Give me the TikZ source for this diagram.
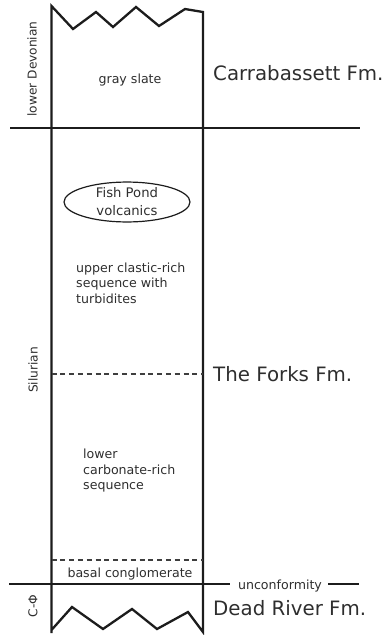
\documentclass[tikz,border=0pt]{standalone}
\usepackage{fontspec}
\setmainfont{DejaVu Sans}
\usetikzlibrary{shapes.geometric}
\definecolor{txt}{HTML}{2E2E2E}
\definecolor{ln}{HTML}{1C1C1C}
\tikzset{
  x=1pt, y=-1pt,
  rule/.style={draw=ln, line width=2.3pt},
  dashrule/.style={draw=ln!85, line width=1.2pt, dash pattern=on 5pt off 3.8pt},
  big/.style={text=txt, inner sep=0pt, font=\fontsize{19.8}{22}\selectfont},
  small/.style={text=txt, inner sep=0pt, font=\fontsize{12.6}{15.5}\selectfont},
  side/.style={text=txt, inner sep=0pt, rotate=90, font=\fontsize{12.2}{14}\selectfont},
}
\begin{document}
\begin{tikzpicture}
\useasboundingbox (0,0) rectangle (389,635);
% column outline with zigzag top and bottom
\draw[rule, line join=miter] (51.5,633) -- (51.5,6) -- (73,29) -- (96,12) -- (113,27) -- (136,7) -- (159,26) -- (185,9) -- (203,12)
  -- (203,632) -- (188,612) -- (157,629) -- (132,609) -- (103,629) -- (72,607) -- (51.5,630);
% boundaries
\draw[rule] (10,128) -- (360,128);
\draw[rule] (9,584) -- (230,584);
\draw[rule] (328,584) -- (359,584);
\draw[dashrule] (51.5,374) -- (203,374);
\draw[dashrule] (51.5,560) -- (203,560);
% labels
\node[small, anchor=base] (slate) at (130,83) {gray slate};
\node[big, anchor=base west] (carr) at (213,80) {Carrabassett Fm.};
\node[big, anchor=base west] (forks) at (213,381) {The Forks Fm.};
\node[big, anchor=base west] (dead) at (213,615) {Dead River Fm.};
\node[small, anchor=base] (unc) at (280,589) {unconformity};
\node[small, anchor=base] (basal) at (130,577) {basal conglomerate};
\node[draw=ln, line width=1.2pt, ellipse, minimum width=126pt, minimum height=38pt, inner sep=0pt, align=center,
  text=txt, font=\fontsize{13.2}{18}\selectfont] (fish) at (127,202) {Fish Pond\\volcanics};
\node[small, anchor=west, align=left] (upper) at (76,283) {upper clastic-rich\\sequence with\\turbidites};
\node[small, anchor=west, align=left] (lower) at (83,471) {lower\\carbonate-rich\\sequence};
\node[side] (dev) at (32,69) {lower Devonian};
\node[side] (sil) at (33,370) {Silurian};
\node[side] (cam) at (33,606) {C-Φ};
\end{tikzpicture}
\end{document}
